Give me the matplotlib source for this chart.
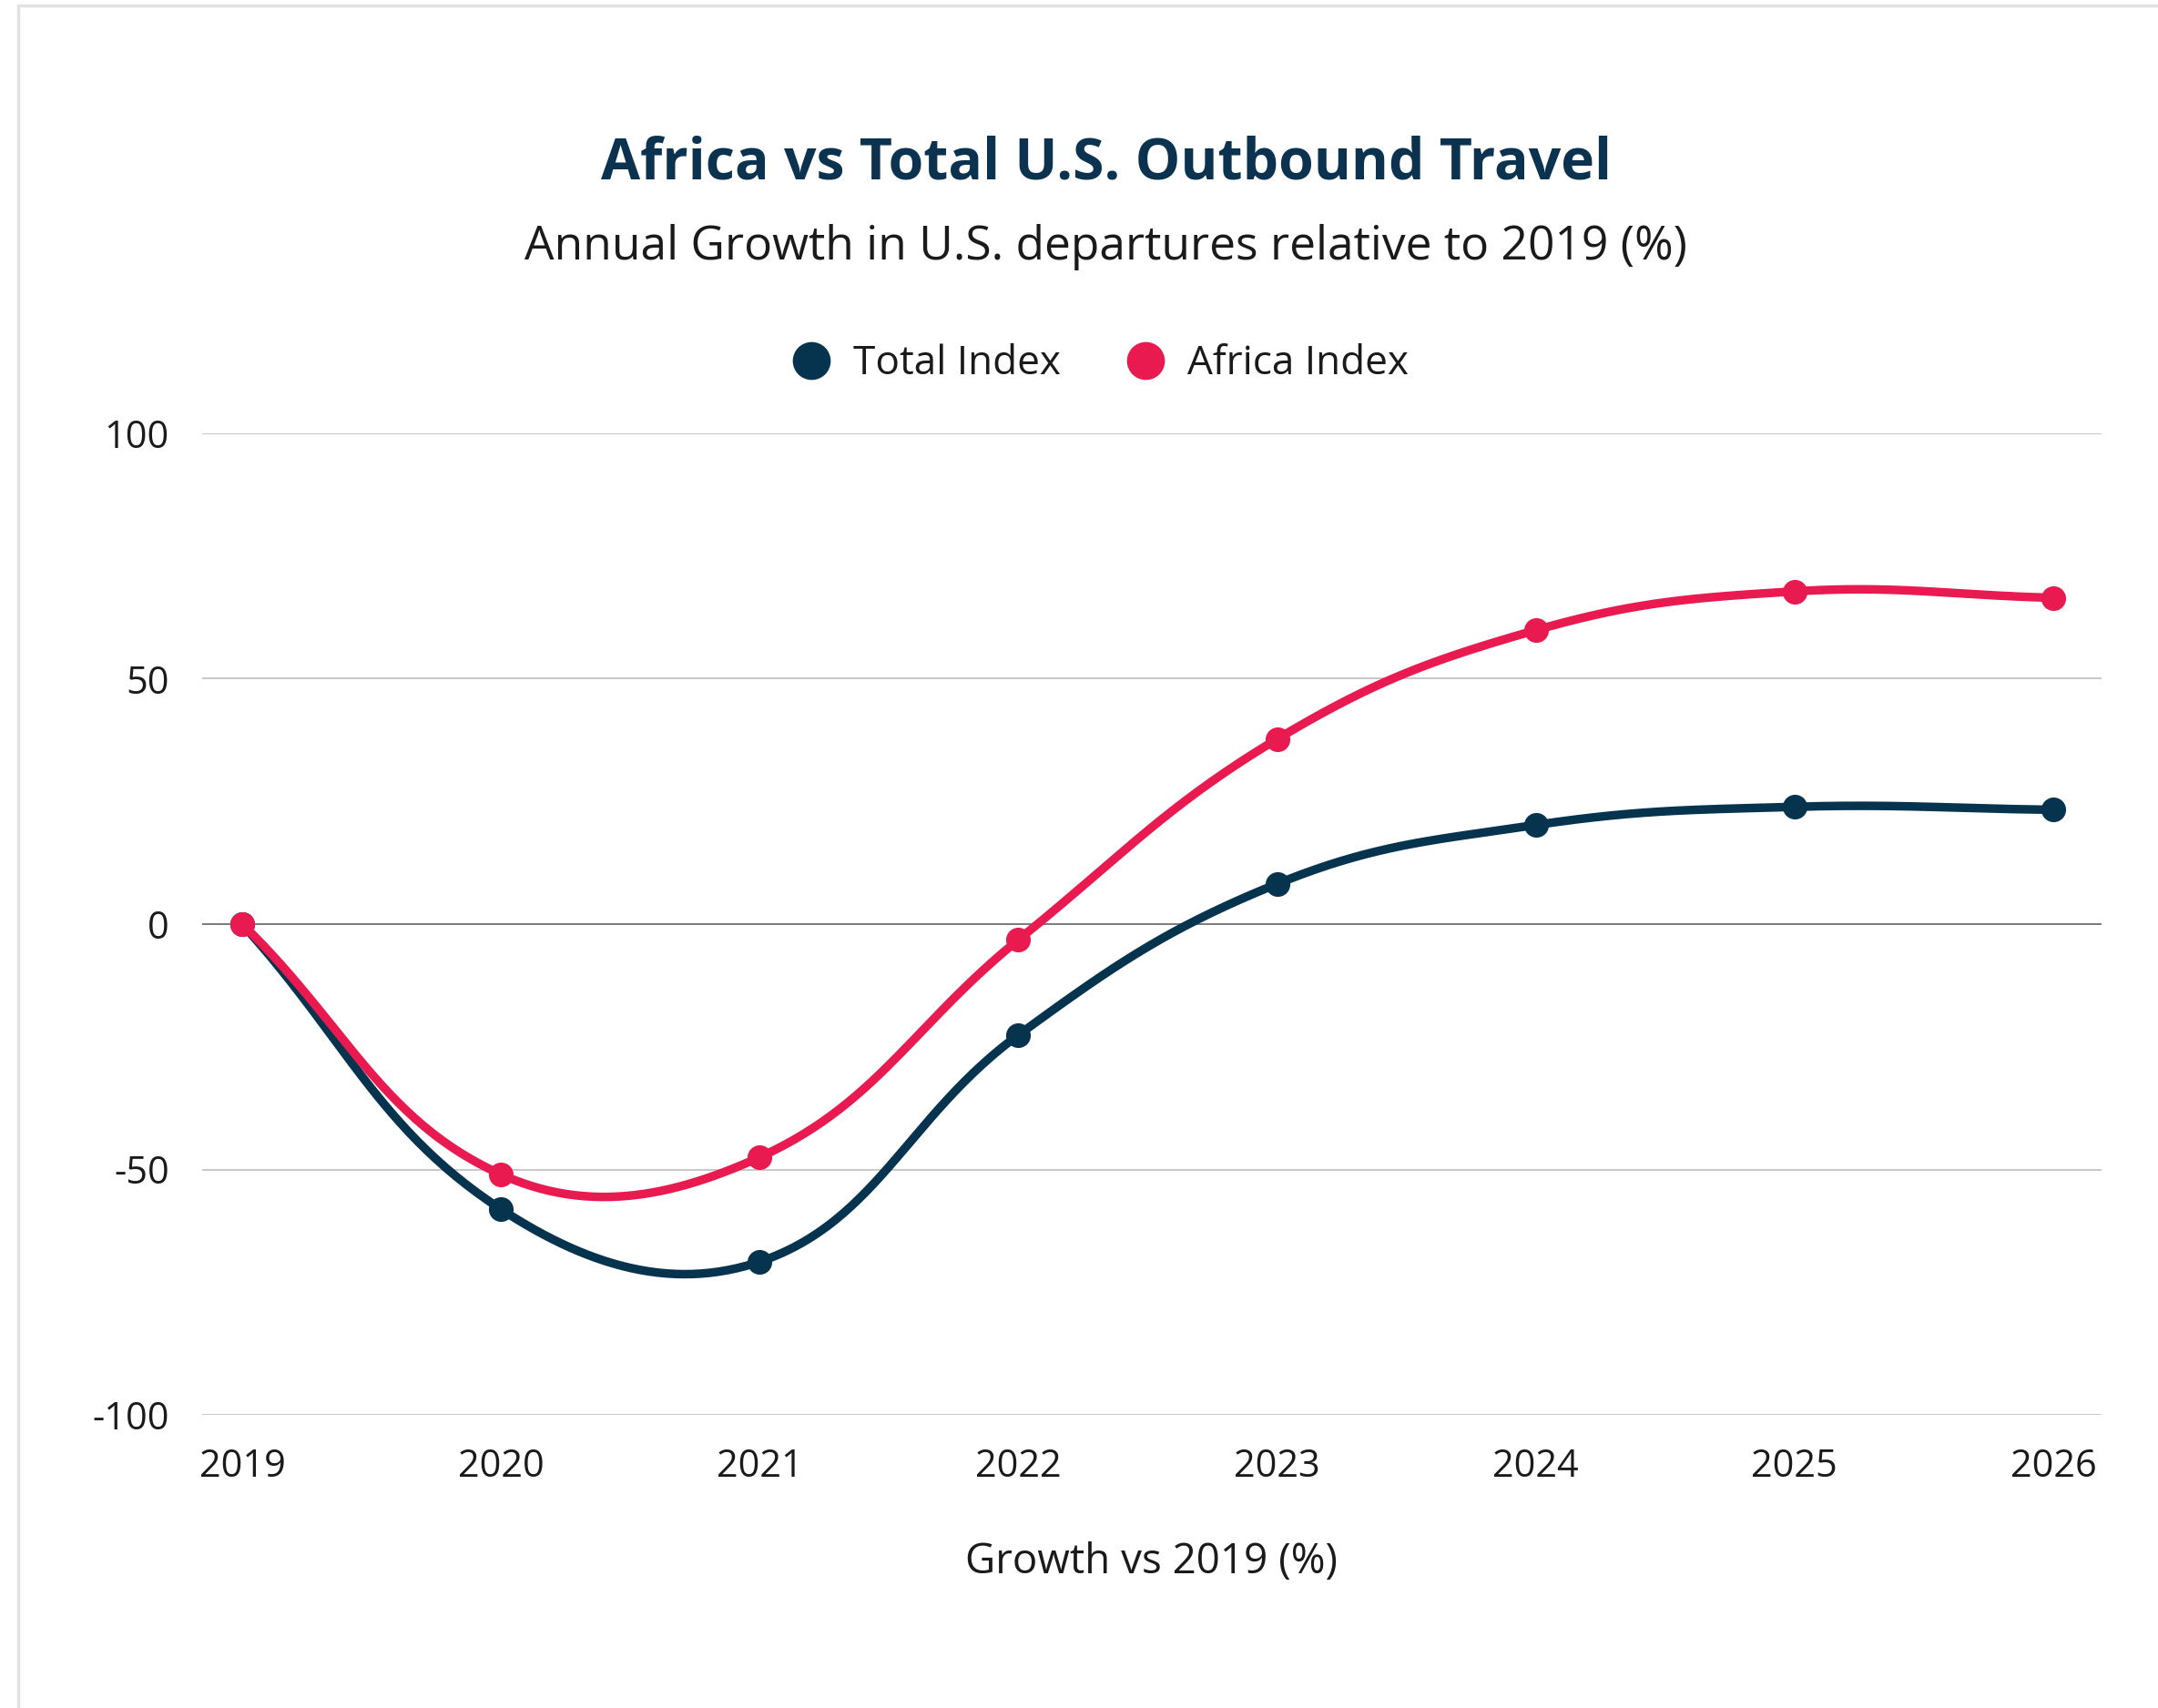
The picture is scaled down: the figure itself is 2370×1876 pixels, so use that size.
import numpy as np
import matplotlib
matplotlib.use("Agg")
import matplotlib.pyplot as plt
from matplotlib.lines import Line2D
from matplotlib.patches import Rectangle

# ---- data ----
years = [2019, 2020, 2021, 2022, 2023, 2024, 2025, 2026]
total_index = [0.0, -58.1, -68.8, -22.6, 8.2, 20.2, 23.9, 23.3]
africa_index = [0.0, -51.0, -47.5, -3.2, 37.7, 59.9, 67.8, 66.5]
y_ticks = [-100, -50, 0, 50, 100]
series_names = ["Total Index", "Africa Index"]
title = "Africa vs Total U.S. Outbound Travel"
subtitle = "Annual Growth in U.S. departures relative to 2019 (%)"
x_label = "Growth vs 2019 (%)"

NAVY = "#06344f"
RED = "#e81a50"
TEXT = "#1a1a1a"
FONT = ['Open Sans', 'DejaVu Sans']

plt.rcParams['font.family'] = FONT

W, H = 2370, 1876
fig = plt.figure(figsize=(W / 100, H / 100), dpi=100)
fig.patch.set_facecolor("white")
renderer = fig.canvas.get_renderer()


def size_for_width(s, target_px, weight="normal", probe=30):
    t = fig.text(0, 0, s, fontsize=probe, fontweight=weight)
    w = t.get_window_extent(renderer=renderer).width
    t.remove()
    return probe * target_px / w


# card border (top & left)
fig.patches.append(Rectangle((20 / W, -0.1), 1.2, (1 - 6 / H) + 0.1,
                             transform=fig.transFigure, fill=False,
                             edgecolor="#e2e2e2", linewidth=2.5))

ax = fig.add_axes([222 / W, 1 - 1554 / H, (2308 - 222) / W, (1554 - 476) / H])
px_per_year = (2255 - 266) / 7
ax.set_xlim(2019 - 44 / px_per_year, 2026 + 53 / px_per_year)
ax.set_ylim(-100, 100)

tick_fs = size_for_width("2019", 95)
for s in ax.spines.values():
    s.set_visible(False)
ax.set_yticks(y_ticks)
ax.set_yticklabels([str(v) for v in y_ticks])
ax.set_xticks(years)
ax.set_xticklabels([str(y) for y in years])
ax.tick_params(axis="both", length=0, labelsize=tick_fs, colors=TEXT)
ax.tick_params(axis="y", pad=26)
ax.tick_params(axis="x", pad=26)
for v in y_ticks:
    if v == 0:
        ax.axhline(v, color="#7a7a7a", lw=1.4, zorder=1)
    else:
        ax.axhline(v, color="#c8c8c8", lw=1.4, zorder=1)

xl_fs = size_for_width(x_label, 409)
fig.text(1264 / W, 1 - 1716 / H, x_label, ha="center", va="center",
         fontsize=xl_fs, color=TEXT)


def spline_curve(xs, ys, tension=0.4, n=60):
    trans = ax.transData
    pts = trans.transform(np.column_stack([xs, ys]))
    m = len(pts)
    cp_prev, cp_next = [], []
    for i in range(m):
        p = pts[max(i - 1, 0)]
        c = pts[i]
        q = pts[min(i + 1, m - 1)]
        d01 = np.hypot(*(c - p))
        d12 = np.hypot(*(q - c))
        tot = d01 + d12
        s01 = d01 / tot if tot else 0
        s12 = d12 / tot if tot else 0
        cp_prev.append(c - tension * s01 * (q - p))
        cp_next.append(c + tension * s12 * (q - p))
    out = [pts[0]]
    t = np.linspace(0, 1, n)[1:, None]
    for i in range(m - 1):
        P0, P1, P2, P3 = pts[i], cp_next[i], cp_prev[i + 1], pts[i + 1]
        seg = ((1 - t) ** 3) * P0 + 3 * ((1 - t) ** 2) * t * P1 + 3 * (1 - t) * t ** 2 * P2 + t ** 3 * P3
        out.extend(seg)
    d = trans.inverted().transform(np.array(out))
    return d[:, 0], d[:, 1]


for vals, col, z in [(total_index, NAVY, 3), (africa_index, RED, 4)]:
    cx, cy = spline_curve(years, vals)
    ax.plot(cx, cy, color=col, lw=6.8, solid_capstyle="round", zorder=z)
    ax.plot(years, vals, "o", color=col, markersize=18.5, zorder=z + 0.5)

# titles
title_fs = size_for_width(title, 1111, weight="bold")
fig.text(1215.5 / W, 1 - 180 / H, title, ha="center", va="center",
         fontsize=title_fs, fontweight="bold", color="#0b3350")
sub_fs = size_for_width(subtitle, 1276)
fig.text(1215 / W, 1 - 271 / H, subtitle, ha="center", va="center",
         fontsize=sub_fs, color=TEXT)

leg_fs = size_for_width(series_names[0], 228)
handles = [Line2D([], [], marker="o", linestyle="none", color=NAVY, markersize=29),
           Line2D([], [], marker="o", linestyle="none", color=RED, markersize=29)]
fig.legend(handles, series_names, loc="center", bbox_to_anchor=(1197 / W, 1 - 400 / H),
           ncol=2, frameon=False, fontsize=leg_fs, handletextpad=0.05, columnspacing=1.1,
           labelcolor=TEXT)

fig.savefig("out.png", dpi=100, facecolor="white")
